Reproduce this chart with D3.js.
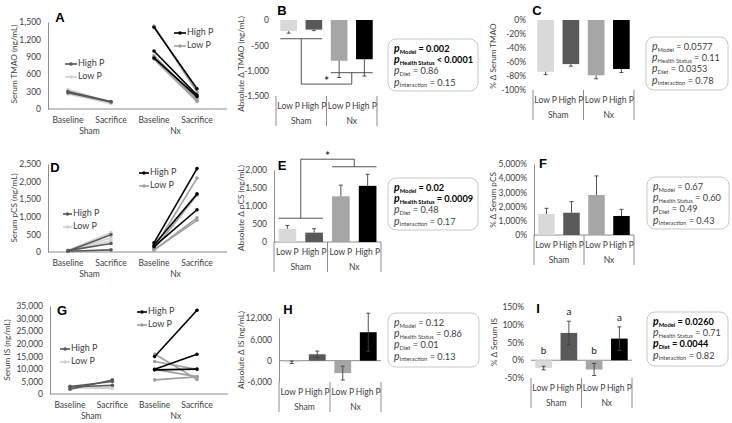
<!DOCTYPE html>
<html>
<head>
  <style>
    body { margin: 0; background: #fff; }
    svg { display: block; font-family: Lato, "Liberation Sans", sans-serif; }
  </style>
</head>
<body>
<svg id="chart" width="732" height="423"></svg>
<script src="https://d3js.org/d3.v7.min.js"></script>
<script>
  // ---- categories ----
  const groups = ["Sham", "Nx"]
  const barLabels = ["Low P", "High P", "Low P", "High P"]
  const timepoints = ["Baseline", "Sacrifice", "Baseline", "Sacrifice"]

  // ---- A: serum TMAO per animal [baseline, sacrifice] ----
  const tmaoShamHigh = [[300, 130], [280, 120]]
  const tmaoShamLow = [[335, 110], [260, 95], [300, 100]]
  const tmaoNxHigh = [[1410, 350], [1000, 240], [880, 215]]
  const tmaoNxLow = [[1430, 290], [920, 180], [900, 150], [860, 130]]
  const tmaoTicks = [0, 300, 600, 900, 1200, 1500]

  // ---- D: serum pCS ----
  const pcsShamHigh = [[30, 490], [40, 240], [20, 60]]
  const pcsShamLow = [[50, 550], [40, 400], [30, 320]]
  const pcsNxHigh = [[260, 2370], [200, 1650], [150, 1200]]
  const pcsNxLow = [[100, 2100], [80, 1620], [50, 970], [60, 900]]
  const pcsTicks = [0, 500, 1000, 1500, 2000, 2500]

  // ---- G: serum IS ----
  const isShamHigh = [[1900, 5600], [3000, 5000], [2800, 3500]]
  const isShamLow = [[3200, 2500], [2800, 3000], [2500, 2200]]
  const isNxHigh = [[14900, 33300], [9800, 15800], [9600, 9900]]
  const isNxLow = [[15900, 5800], [12900, 9800], [9800, 6900], [5600, 6800]]
  const isTicks = [0, 5000, 10000, 15000, 20000, 25000, 30000, 35000]

  // ---- bar panels: order Sham Low P, Sham High P, Nx Low P, Nx High P ----
  const tmaoAbsMean = [-220, -190, -805, -775]
  const tmaoAbsErr = [40, 20, 330, 330]
  const tmaoAbsTicks = [-1500, -1000, -500, 0]
  const tmaoBracket = [-370, -1040, -1265]

  const tmaoPctMean = [-74, -63, -79, -70]
  const tmaoPctErr = [4, 3, 5, 5]
  const tmaoPctTicks = [-100, -80, -60, -40, -20, 0]

  const pcsAbsMean = [370, 260, 1270, 1560]
  const pcsAbsErr = [90, 110, 310, 320]
  const pcsAbsTicks = [0, 500, 1000, 1500, 2000]
  const pcsBracket = [660, 2090, 2300]

  const pcsPctMean = [1480, 1570, 2820, 1340]
  const pcsPctErr = [400, 780, 1340, 470]
  const pcsPctTicks = [0, 1000, 2000, 3000, 4000, 5000]

  const isAbsMean = [-450, 1800, -3500, 8000]
  const isAbsErr = [350, 900, 1950, 5350]
  const isAbsTicks = [-6000, 0, 6000, 12000]

  const isPctMean = [-22, 77, -26, 61]
  const isPctErr = [5, 33, 17, 33]
  const isPctTicks = [-50, 0, 50, 100, 150]
  const isLetters = ["b", "a", "b", "a"]

  // ---- p-value boxes: [subscript, value, bold] ----
  const statsTmaoAbs = [["Model", "= 0.002", true], ["Health Status", "< 0.0001", true], ["Diet", "= 0.86", false], ["Interaction", "= 0.15", false]]
  const statsTmaoPct = [["Model", "= 0.0577", false], ["Health Status", "= 0.11", false], ["Diet", "= 0.0353", false], ["Interaction", "= 0.78", false]]
  const statsPcsAbs = [["Model", "= 0.02", true], ["Health Status", "= 0.0009", true], ["Diet", "= 0.48", false], ["Interaction", "= 0.17", false]]
  const statsPcsPct = [["Model", "= 0.67", false], ["Health Status", "= 0.60", false], ["Diet", "= 0.49", false], ["Interaction", "= 0.43", false]]
  const statsIsAbs = [["Model", "= 0.12", false], ["Health Status", "= 0.86", false], ["Diet", "= 0.01", false], ["Interaction", "= 0.13", false]]
  const statsIsPct = [["Model", "= 0.0260", true], ["Health Status", "= 0.71", false], ["Diet", "= 0.0044", true], ["Interaction", "= 0.82", false]]

  const barColors = ["#d9d9d9", "#595959", "#a6a6a6", "#000000"]
  const shamHighColor = "#595959", shamLowColor = "#d0d0d0", nxHighColor = "#000000", nxLowColor = "#a0a0a0"
  const textColor = "#404040"
  const axisColor = "#8c8c8c"
  const fs = 8.5

  const fmt = d3.formatLocale({ decimal: ".", thousands: ",", grouping: [3], currency: ["$", ""], minus: "-" }).format(",")
  const pct = d => fmt(d) + "%"

  const svg = d3.select("#chart")

  function styleAxis(ax) {
    ax.attr("font-family", null).attr("font-size", fs)
    ax.selectAll("text").attr("fill", textColor)
    ax.select(".domain").attr("stroke", axisColor)
  }

  function yTitle(text, x, y) {
    svg.append("text")
      .attr("transform", `translate(${x},${y}) rotate(-90)`)
      .attr("text-anchor", "middle").attr("dominant-baseline", "middle")
      .attr("font-size", 8.2).attr("fill", textColor)
      .text(text)
  }

  function letter(text, x, y) {
    svg.append("text").attr("x", x).attr("y", y)
      .attr("text-anchor", "middle").attr("dominant-baseline", "middle")
      .attr("font-family", "Liberation Sans, Arial, sans-serif")
      .attr("font-weight", "bold").attr("font-size", 13).attr("fill", "#000")
      .text(text)
  }

  function legend(items, x0, x1, y0) {
    items.forEach(([label, color], i) => {
      const y = y0 + i * 13
      svg.append("line").attr("x1", x0).attr("x2", x1).attr("y1", y).attr("y2", y)
        .attr("stroke", color).attr("stroke-width", 1.6)
      svg.append("circle").attr("cx", (x0 + x1) / 2).attr("cy", y).attr("r", 1.8).attr("fill", color)
      svg.append("text").attr("x", x1 + 1).attr("y", y).attr("dominant-baseline", "middle")
        .attr("font-size", fs + 0.5).attr("fill", textColor).text(label)
    })
  }

  function linePanel(o) {
    const x = d3.scalePoint().domain(d3.range(4)).range(o.xRange)
    const y = d3.scaleLinear().domain([0, d3.max(o.ticks)]).range(o.yRange)
    const g = svg.append("g")

    const ax = g.append("g").attr("transform", `translate(${o.axisX},0)`)
      .call(d3.axisLeft(y).tickValues(o.ticks).tickSize(0).tickPadding(7).tickFormat(fmt))
    styleAxis(ax)

    g.append("line").attr("x1", o.axisX).attr("x2", o.axisEnd)
      .attr("y1", y(0)).attr("y2", y(0)).attr("stroke", axisColor)

    g.selectAll(null).data(timepoints).join("text")
      .attr("x", (d, i) => x(i)).attr("y", y(0) + 12)
      .attr("text-anchor", "middle").attr("dominant-baseline", "middle")
      .attr("font-size", fs).attr("fill", textColor).text(d => d)
    g.selectAll(null).data(groups).join("text")
      .attr("x", (d, i) => (x(2 * i) + x(2 * i + 1)) / 2).attr("y", y(0) + 23)
      .attr("text-anchor", "middle").attr("dominant-baseline", "middle")
      .attr("font-size", fs).attr("fill", textColor).text(d => d)

    const line = d3.line()
    o.series.forEach(s => {
      s.values.forEach(v => {
        const pts = v.map((val, j) => [x(s.start + j), y(val)])
        g.append("path").attr("d", line(pts))
          .attr("fill", "none").attr("stroke", s.color).attr("stroke-width", 1.6)
        g.selectAll(null).data(pts).join("circle")
          .attr("cx", d => d[0]).attr("cy", d => d[1]).attr("r", 1.8).attr("fill", s.color)
      })
    })
  }

  function barPanel(o) {
    const x = d3.scaleBand().domain(d3.range(4)).range(o.xRange).paddingInner(0.34).paddingOuter(0.17)
    const y = d3.scaleLinear().domain(o.domain).range(o.yRange)
    const bw = x.bandwidth()
    const g = svg.append("g")

    const ax = g.append("g").attr("transform", `translate(${o.xRange[0]},0)`)
      .call(d3.axisLeft(y).tickValues(o.ticks).tickSize(0).tickPadding(7).tickFormat(o.format))
    styleAxis(ax)
    if (!o.showAxis) ax.select(".domain").remove()

    if (o.zeroLine) {
      g.append("line").attr("x1", o.xRange[0]).attr("x2", o.xRange[1])
        .attr("y1", y(0)).attr("y2", y(0)).attr("stroke", axisColor)
    }

    g.selectAll(null).data(o.mean).join("rect")
      .attr("x", (d, i) => x(i)).attr("width", bw)
      .attr("y", d => y(Math.max(0, d)))
      .attr("height", d => Math.abs(y(d) - y(0)))
      .attr("fill", (d, i) => barColors[i])

    o.mean.forEach((m, i) => {
      const cx = x(i) + bw / 2
      const dir = m >= 0 ? 1 : -1
      const end = m + dir * o.err[i]
      const start = o.twoSided ? m - dir * o.err[i] : m
      g.append("line").attr("x1", cx).attr("x2", cx).attr("y1", y(start)).attr("y2", y(end))
        .attr("stroke", "#404040").attr("stroke-width", 0.9)
      const caps = o.twoSided ? [start, end] : [end]
      caps.forEach(c => {
        g.append("line").attr("x1", cx - 2).attr("x2", cx + 2).attr("y1", y(c)).attr("y2", y(c))
          .attr("stroke", "#404040").attr("stroke-width", 0.9)
      })
    })

    const bottom = y(o.domain[0])
    const mid = (o.xRange[0] + o.xRange[1]) / 2
    g.selectAll(null).data([o.xRange[0], mid, o.xRange[1]]).join("line")
      .attr("x1", d => d).attr("x2", d => d).attr("y1", bottom).attr("y2", bottom + 30)
      .attr("stroke", axisColor)

    g.selectAll(null).data(barLabels).join("text")
      .attr("x", (d, i) => x(i) + bw / 2).attr("y", bottom + 11)
      .attr("text-anchor", "middle").attr("dominant-baseline", "middle")
      .attr("font-size", fs).attr("fill", textColor).text(d => d)
    g.selectAll(null).data(groups).join("text")
      .attr("x", (d, i) => i === 0 ? (o.xRange[0] + mid) / 2 : (mid + o.xRange[1]) / 2)
      .attr("y", bottom + 26)
      .attr("text-anchor", "middle").attr("dominant-baseline", "middle")
      .attr("font-size", fs).attr("fill", textColor).text(d => d)

    if (o.bracket) {
      const [shamLevel, nxLevel, topLevel] = o.bracket
      const shamMid = x(0) + (x(1) + bw - x(0)) / 2
      const nxMid = x(2) + (x(3) + bw - x(2)) / 2
      const p = d3.path()
      p.moveTo(x(0), y(shamLevel)); p.lineTo(x(1) + bw, y(shamLevel))
      p.moveTo(x(2), y(nxLevel)); p.lineTo(x(3) + bw, y(nxLevel))
      p.moveTo(shamMid, y(shamLevel)); p.lineTo(shamMid, y(topLevel)); p.lineTo(nxMid, y(topLevel)); p.lineTo(nxMid, y(nxLevel))
      g.append("path").attr("d", p.toString()).attr("fill", "none").attr("stroke", "#404040").attr("stroke-width", 0.9)
      g.append("text").attr("x", (shamMid + nxMid) / 2).attr("y", y(topLevel) + 1)
        .attr("text-anchor", "middle").attr("font-size", 11).attr("font-weight", "bold")
        .attr("fill", "#333").text("*")
    }

    if (o.letters) {
      g.selectAll(null).data(o.letters).join("text")
        .attr("x", (d, i) => x(i) + bw / 2)
        .attr("y", (d, i) => y(Math.max(0, o.mean[i] + o.err[i])) - 6)
        .attr("text-anchor", "middle").attr("font-size", 10).attr("fill", "#222").text(d => d)
    }
  }

  function statBox(rows, bx, by, bw, bh) {
    svg.append("rect").attr("x", bx).attr("y", by).attr("width", bw).attr("height", bh)
      .attr("rx", 8).attr("fill", "#fff").attr("stroke", "#c8c8c8")
    rows.forEach(([sub, val, bold], i) => {
      const t = svg.append("text").attr("x", bx + 6).attr("y", by + 13 + i * 11.2)
        .attr("fill", bold ? "#000" : "#404040").attr("font-weight", bold ? "bold" : null)
      t.append("tspan").attr("font-style", "italic").attr("font-size", 10.5).text("p")
      t.append("tspan").attr("font-size", 5.8).attr("dy", 1.5).text(sub)
      t.append("tspan").attr("font-size", 9.2).attr("dy", -1.5).text(" " + val)
    })
  }

  // ---- row 1: TMAO ----
  linePanel({
    xRange: [68, 197], yRange: [109, 22], ticks: tmaoTicks, axisX: 48, axisEnd: 227,
    series: [
      { values: tmaoShamLow, start: 0, color: shamLowColor },
      { values: tmaoShamHigh, start: 0, color: shamHighColor },
      { values: tmaoNxLow, start: 2, color: nxLowColor },
      { values: tmaoNxHigh, start: 2, color: nxHighColor }
    ]
  })
  legend([["High P", shamHighColor], ["Low P", shamLowColor]], 65, 77, 64)
  legend([["High P", nxHighColor], ["Low P", nxLowColor]], 174, 186, 33)
  yTitle("Serum TMAO (ng/mL)", 15, 64)
  letter("A", 60, 19)

  barPanel({
    xRange: [276, 377], domain: [-1500, 0], yRange: [96, 20], ticks: tmaoAbsTicks, format: fmt,
    mean: tmaoAbsMean, err: tmaoAbsErr, bracket: tmaoBracket
  })
  yTitle("Absolute \u0394 TMAO (ng/mL)", 242, 64)
  letter("B", 282, 12)
  statBox(statsTmaoAbs, 388, 39, 90, 52)

  barPanel({
    xRange: [533, 634], domain: [-100, 0], yRange: [90, 20], ticks: tmaoPctTicks, format: pct,
    mean: tmaoPctMean, err: tmaoPctErr
  })
  yTitle("% \u0394 Serum TMAO", 494, 56)
  letter("C", 537, 12)
  statBox(statsTmaoPct, 646, 37, 82, 53)

  // ---- row 2: pCS ----
  linePanel({
    xRange: [68, 197], yRange: [252, 164], ticks: pcsTicks, axisX: 48, axisEnd: 227,
    series: [
      { values: pcsShamLow, start: 0, color: shamLowColor },
      { values: pcsShamHigh, start: 0, color: shamHighColor },
      { values: pcsNxLow, start: 2, color: nxLowColor },
      { values: pcsNxHigh, start: 2, color: nxHighColor }
    ]
  })
  legend([["High P", shamHighColor], ["Low P", shamLowColor]], 63, 72, 214)
  legend([["High P", nxHighColor], ["Low P", nxLowColor]], 139, 149, 173)
  yTitle("Serum pCS (ng/mL)", 15, 208)
  letter("D", 55, 169)

  barPanel({
    xRange: [274, 381], domain: [0, 2000], yRange: [242, 170], ticks: pcsAbsTicks, format: fmt,
    mean: pcsAbsMean, err: pcsAbsErr, bracket: pcsBracket, showAxis: true, zeroLine: true
  })
  yTitle("Absolute \u0394 pCS (ng/mL)", 242, 208)
  letter("E", 282, 167)
  statBox(statsPcsAbs, 388, 178, 90, 52)

  barPanel({
    xRange: [534, 634], domain: [0, 5000], yRange: [235, 164], ticks: pcsPctTicks, format: pct,
    mean: pcsPctMean, err: pcsPctErr, showAxis: true, zeroLine: true
  })
  yTitle("% \u0394 Serum pCS", 494, 200)
  letter("F", 543, 165)
  statBox(statsPcsPct, 647, 177, 82, 52)

  // ---- row 3: IS ----
  linePanel({
    xRange: [70, 197], yRange: [394, 306], ticks: isTicks, axisX: 50, axisEnd: 228,
    series: [
      { values: isShamLow, start: 0, color: shamLowColor },
      { values: isShamHigh, start: 0, color: shamHighColor },
      { values: isNxLow, start: 2, color: nxLowColor },
      { values: isNxHigh, start: 2, color: nxHighColor }
    ]
  })
  legend([["High P", shamHighColor], ["Low P", shamLowColor]], 60, 70, 349)
  legend([["High P", nxHighColor], ["Low P", nxLowColor]], 137, 147, 312)
  yTitle("Serum IS (ng/mL)", 8, 350)
  letter("G", 62, 312)

  barPanel({
    xRange: [279, 381], domain: [-6000, 12000], yRange: [382, 318], ticks: isAbsTicks, format: fmt,
    mean: isAbsMean, err: isAbsErr, twoSided: true, showAxis: true, zeroLine: true
  })
  yTitle("Absolute \u0394 IS (ng/mL)", 242, 350)
  letter("H", 288, 311)
  statBox(statsIsAbs, 388, 313, 91, 54)

  barPanel({
    xRange: [531, 632], domain: [-50, 150], yRange: [378, 307], ticks: isPctTicks, format: pct,
    mean: isPctMean, err: isPctErr, twoSided: true, zeroLine: true, letters: isLetters
  })
  yTitle("% \u0394 Serum IS", 495, 342)
  letter("I", 538, 310)
  statBox(statsIsPct, 647, 312, 81, 54)
</script>
</body>
</html>
